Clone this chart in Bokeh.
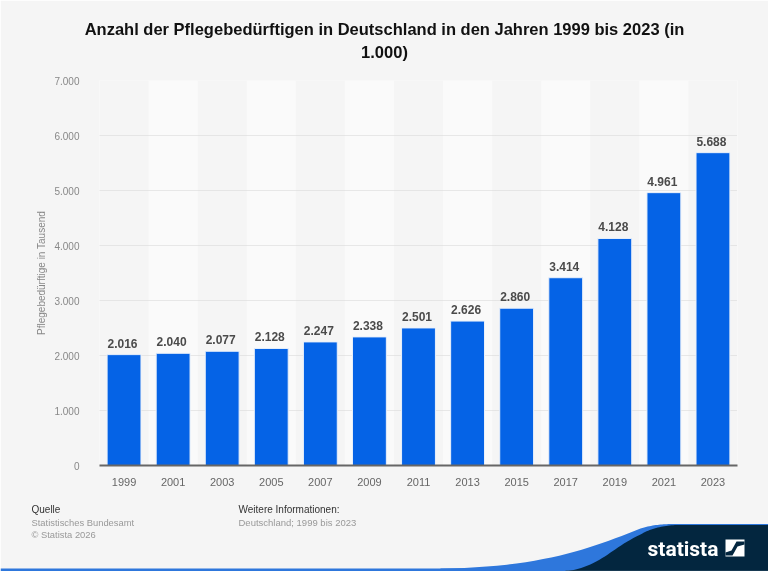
from bokeh.plotting import figure
from bokeh.models import ColumnDataSource, LabelSet, FactorRange, Range1d
from bokeh.core.properties import value
from bokeh.embed import file_html
from bokeh.resources import INLINE

years = ["1999","2001","2003","2005","2007","2009","2011","2013","2015","2017","2019","2021","2023"]
values = [2016,2040,2077,2128,2247,2338,2501,2626,2860,3414,4128,4961,5688]
value_labels = ["2.016","2.040","2.077","2.128","2.247","2.338","2.501","2.626","2.860","3.414","4.128","4.961","5.688"]
y_ticks = [0,1000,2000,3000,4000,5000,6000,7000]
y_tick_labels = ["0","1.000","2.000","3.000","4.000","5.000","6.000","7.000"]
band_years = ["2001","2005","2009","2013","2017","2021"]

W, H = 768, 571
L, R, T, B = 99, 737, 80, 465
BG = "#f5f5f5"
FIXED = {"position":"fixed","left":"0","top":"0"}

p = figure(width=W, height=H, x_range=FactorRange(factors=years, range_padding=0), y_range=(0, 7000),
           output_backend="svg", toolbar_location=None, background_fill_color=BG, border_fill_color=BG,
           min_border_left=L, min_border_right=W-R, min_border_top=T, min_border_bottom=H-B, styles=FIXED)
p.outline_line_color = None

p.vbar(x=band_years, top=7000, width=1.0, fill_color="#fafafa", line_color=None, level="image")

src = ColumnDataSource(dict(x=years, top=values, label=value_labels))
p.vbar(x="x", top="top", source=src, width=0.69, fill_color="#0563e6", line_color="#e9f0fb", line_width=1)
p.add_layout(LabelSet(x="x", y="top", text="label", source=src, text_align="center", text_baseline="bottom",
                      x_offset=-1.5, y_offset=7, text_font=value("Liberation Sans"), text_font_style="bold",
                      text_font_size="12px", text_color="#4b4b4b"))

p.xgrid.visible = False
p.ygrid.ticker = y_ticks
p.ygrid.grid_line_color = "#d4d4d4"
p.ygrid.grid_line_dash = [1, 1]
p.ygrid.level = "underlay"

ax = p.xaxis[0]
ax.axis_line_color = "#666666"; ax.axis_line_width = 2
ax.major_tick_line_color = None; ax.minor_tick_line_color = None
ax.major_label_text_font = "Liberation Sans"; ax.major_label_text_font_size = "11px"
ax.major_label_text_color = "#666666"; ax.major_label_standoff = 6
ay = p.yaxis[0]
ay.ticker = y_ticks
ay.major_label_overrides = {v: t for v, t in zip(y_ticks, y_tick_labels)}
ay.axis_line_color = None; ay.major_tick_line_color = None; ay.minor_tick_line_color = None
ay.major_label_text_font = "Liberation Sans"; ay.major_label_text_font_size = "10px"
ay.major_label_text_color = "#888888"; ay.major_label_standoff = 14
ay.axis_label = "Pflegebedürftige in Tausend"
ay.axis_label_text_font = "Liberation Sans"; ay.axis_label_text_font_size = "10px"
ay.axis_label_text_font_style = "normal"; ay.axis_label_text_color = "#888888"
ay.axis_label_standoff = 4

# transparent page-sized overlay for title, footer and logo, in pixel coordinates
o = figure(width=W, height=H, x_range=Range1d(0, W), y_range=Range1d(H, 0), output_backend="svg",
           toolbar_location=None, min_border=0, styles=FIXED,
           background_fill_alpha=0, border_fill_alpha=0, outline_line_color=None)
o.axis.visible = False
o.grid.visible = False

def text(s, x, y, size, color, style="normal", align="left", font="Liberation Sans"):
    o.text(x=[x], y=[y], text=[s], text_font=value(font), text_font_size=size, text_color=color,
           text_font_style=style, text_align=align, text_baseline="middle")

text("Anzahl der Pflegebedürftigen in Deutschland in den Jahren 1999 bis 2023 (in", 384, 28, "16.5px", "#111111", "bold", "center")
text("1.000)", 384, 51, "16.5px", "#111111", "bold", "center")
text("Quelle", 31, 509, "10px", "#333333")
text("Statistisches Bundesamt", 31, 522, "9.4px", "#999999")
text("© Statista 2026", 31, 534, "9.4px", "#999999")
text("Weitere Informationen:", 238, 509, "10px", "#333333")
text("Deutschland; 1999 bis 2023", 238, 522, "9.5px", "#999999")

def poly(pts, color):
    xs, ys = zip(*pts)
    o.patch(list(xs), list(ys), fill_color=color, line_color=None)

def curve(p0, c1, c2, p1, n=24):
    out = []
    for i in range(n + 1):
        t = i / n; u = 1 - t
        out.append((u**3*p0[0] + 3*u*u*t*c1[0] + 3*u*t*t*c2[0] + t**3*p1[0],
                    u**3*p0[1] + 3*u*u*t*c1[1] + 3*u*t*t*c2[1] + t**3*p1[1]))
    return out

# footer swoosh
poly([(0, 568), (768, 568), (768, 571), (0, 571)], "#2e77dc")
blue_top = curve((440, 568), (540, 567), (590, 548), (640, 528)) + curve((640, 528), (655, 523.5), (665, 523.5), (680, 523.5))
poly(blue_top + [(768, 523.5), (768, 571), (440, 571)], "#2e77dc")
navy_top = curve((565, 571), (600, 566), (610, 548), (640, 534)) + curve((640, 534), (652, 527), (665, 524.5), (680, 524.5))
poly(navy_top + [(768, 524.5), (768, 571), (565, 571)], "#03263f")
poly([(565, 570), (768, 570), (768, 571), (565, 571)], "#2f4f66")

text("statista", 647, 548, "21px", "#ffffff", "bold", "left", "Roboto")
poly([(725, 539), (744, 539), (744, 556), (725, 556)], "#ffffff")
poly([(744, 541), (736, 541), (731, 550), (725, 552), (725, 555), (732, 555), (737, 546), (744, 544)], "#03263f")

open("out.html", "w").write(file_html([p, o], INLINE))
